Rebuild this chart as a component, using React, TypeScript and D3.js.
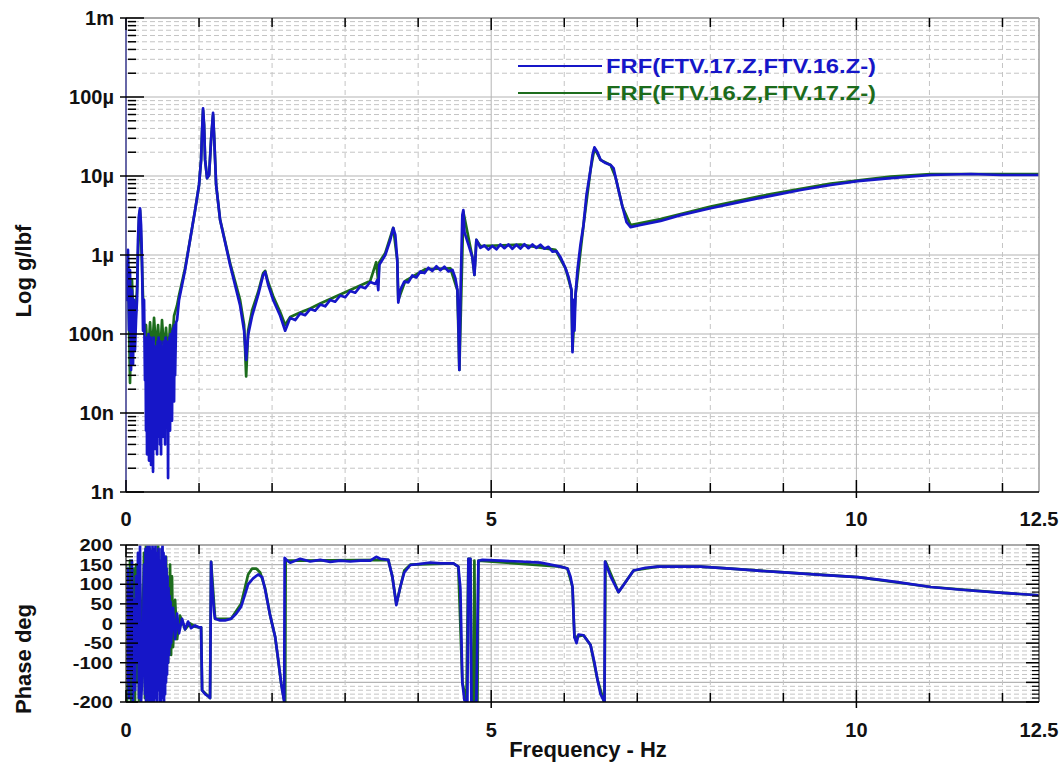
import React from 'react';
import * as d3 from 'd3';

// ---------- data ----------
const xTickValues = [0, 5, 10, 12.5];
const xTickLabels = ['0', '5', '10', '12.5'];
const magTickValues = [1e-3, 1e-4, 1e-5, 1e-6, 1e-7, 1e-8, 1e-9];
const magTickLabels = ['1m', '100µ', '10µ', '1µ', '100n', '10n', '1n'];
const phaseTickValues = [200, 150, 100, 50, 0, -50, -100, -200];
const legendLabels = ['FRF(FTV.17.Z,FTV.16.Z-)', 'FRF(FTV.16.Z,FTV.17.Z-)'];
const seriesColors = ['#1616c8', '#1c6c1c'];

// magnitude, series 1 (blue): [Hz, g/lbf]
const blueMag: [number, number][] = [
  [0, 8.1e-7], [0.014, 2.7e-7], [0.027, 1.16e-6], [0.041, 1.12e-7], [0.055, 6.45e-7], [0.069, 3.5e-8],
  [0.082, 3.6e-7], [0.096, 4.1e-8], [0.11, 2.7e-7], [0.123, 6.3e-8], [0.137, 1.5e-7], [0.151, 2.7e-7],
  [0.164, 1.55e-6], [0.178, 3.2e-6], [0.192, 3.9e-6], [0.206, 2.4e-6], [0.219, 8.6e-7], [0.233, 1.1e-7],
  [0.247, 2.7e-7], [0.26, 2.6e-8],
  [0.267, 8e-8], [0.274, 6e-9], [0.281, 9e-8], [0.288, 3e-9], [0.295, 7e-8], [0.302, 5e-9], [0.308, 1.0e-7],
  [0.315, 2.5e-9], [0.322, 8e-8], [0.329, 7e-9], [0.336, 9e-8], [0.343, 2.2e-9], [0.35, 7e-8], [0.356, 4e-9],
  [0.363, 8e-8], [0.37, 1.8e-9], [0.377, 9e-8], [0.384, 6e-9], [0.391, 7e-8], [0.397, 3.5e-9], [0.404, 6e-8],
  [0.411, 8e-9], [0.418, 7e-8], [0.425, 3e-9], [0.432, 8e-8], [0.439, 5e-9], [0.446, 9e-8], [0.452, 7e-9],
  [0.459, 7e-8], [0.466, 4e-9], [0.473, 8e-8], [0.48, 3e-9], [0.487, 6e-8], [0.493, 8e-9], [0.5, 7e-8],
  [0.507, 5e-9], [0.514, 8e-8], [0.521, 6e-9], [0.528, 7e-8], [0.535, 4e-9], [0.542, 9e-8], [0.548, 8e-9],
  [0.555, 8e-8], [0.562, 1e-8], [0.569, 7e-8], [0.576, 1.5e-9], [0.583, 8e-8], [0.589, 9e-9], [0.596, 9e-8],
  [0.603, 6e-9], [0.61, 1.0e-7], [0.617, 1.2e-8], [0.624, 9e-8], [0.63, 8e-9], [0.637, 1.1e-7], [0.644, 1.5e-8],
  [0.651, 1.2e-7], [0.658, 1.4e-8], [0.665, 1.3e-7], [0.672, 3e-8], [0.686, 1.4e-7], [0.699, 1.5e-7],
  [0.726, 2.7e-7], [0.809, 6.45e-7], [0.877, 1.55e-6],
  [0.946, 3.7e-6], [1.0, 7.7e-6], [1.028, 1.6e-5], [1.042, 3.8e-5], [1.055, 7.2e-5], [1.069, 4.4e-5],
  [1.083, 1.6e-5], [1.11, 9.4e-6], [1.138, 1.03e-5], [1.165, 2.9e-5], [1.192, 6.3e-5], [1.206, 3.3e-5],
  [1.234, 7.7e-6], [1.288, 2.8e-6], [1.425, 7.5e-7], [1.562, 2.3e-7], [1.617, 1.1e-7], [1.645, 4.7e-8],
  [1.672, 9.7e-8], [1.727, 1.7e-7], [1.809, 3.1e-7], [1.878, 5.6e-7], [1.905, 6.1e-7], [1.946, 4.2e-7],
  [2.015, 2.7e-7], [2.111, 1.7e-7], [2.179, 1.1e-7], [2.248, 1.6e-7], [2.316, 1.5e-7], [2.385, 1.82e-7],
  [2.453, 1.73e-7], [2.522, 2.07e-7], [2.59, 1.97e-7], [2.659, 2.36e-7], [2.727, 2.24e-7], [2.796, 2.7e-7],
  [2.864, 2.56e-7], [2.933, 3.07e-7], [3.002, 2.92e-7], [3.07, 3.5e-7], [3.139, 3.33e-7], [3.207, 4.0e-7],
  [3.276, 3.8e-7], [3.344, 4.55e-7], [3.413, 4.3e-7],
  [3.44, 4.8e-7], [3.454, 3.6e-7], [3.468, 7.5e-7], [3.55, 1.0e-6], [3.618, 1.55e-6], [3.659, 2.2e-6],
  [3.687, 1.8e-6], [3.714, 8.6e-7], [3.728, 2.5e-7], [3.755, 3.6e-7], [3.81, 4.6e-7], [3.865, 4.5e-7],
  [3.92, 5.5e-7], [3.975, 5.2e-7], [4.03, 6.2e-7], [4.085, 5.9e-7], [4.14, 6.9e-7], [4.194, 6.3e-7],
  [4.249, 7.2e-7], [4.304, 6.4e-7], [4.359, 7.1e-7], [4.414, 6.2e-7], [4.469, 6.5e-7], [4.509, 5.1e-7],
  [4.537, 3.6e-7], [4.55, 1.5e-7],
  [4.564, 3.5e-8], [4.578, 2.7e-7], [4.605, 3.2e-6], [4.619, 3.7e-6], [4.633, 1.95e-6], [4.688, 1.35e-6],
  [4.742, 9.4e-7], [4.77, 5.6e-7], [4.783, 8.6e-7], [4.797, 1.55e-6], [4.852, 1.23e-6], [4.907, 1.32e-6],
  [4.962, 1.17e-6], [5.016, 1.3e-6], [5.071, 1.18e-6], [5.126, 1.36e-6], [5.181, 1.22e-6], [5.236, 1.36e-6],
  [5.29, 1.2e-6], [5.345, 1.35e-6], [5.4, 1.21e-6], [5.455, 1.37e-6], [5.51, 1.22e-6], [5.565, 1.36e-6],
  [5.619, 1.23e-6], [5.674, 1.35e-6], [5.729, 1.2e-6], [5.784, 1.27e-6], [5.839, 1.1e-6], [5.893, 1.12e-6],
  [5.948, 9.4e-7], [6.017, 6.8e-7], [6.058, 5.3e-7], [6.099, 3.6e-7], [6.113, 5.9e-8], [6.127, 2.7e-7],
  [6.14, 1.1e-7], [6.154, 3.1e-7], [6.181, 6.45e-7], [6.222, 1.35e-6], [6.264, 2.4e-6], [6.305, 5.8e-6],
  [6.36, 1.2e-5], [6.387, 1.85e-5], [6.414, 2.3e-5], [6.455, 2.0e-5], [6.497, 1.6e-5], [6.565, 1.46e-5],
  [6.634, 1.38e-5], [6.675, 1.26e-5], [6.702, 9.7e-6], [6.743, 6.65e-6], [6.798, 4.05e-6], [6.853, 2.6e-6],
  [6.908, 2.25e-6], [7.045, 2.4e-6], [7.319, 2.7e-6], [7.593, 3.2e-6], [8.004, 3.9e-6], [8.415, 4.7e-6],
  [8.827, 5.6e-6], [9.238, 6.65e-6], [9.649, 7.7e-6], [10.019, 8.6e-6], [10.471, 9.4e-6], [11.02, 1.03e-5],
  [11.568, 1.06e-5], [11.979, 1.03e-5], [12.5, 1.03e-5],
];

// magnitude, series 2 (green)
const greenMag: [number, number][] = [
  [0, 7.5e-7], [0.027, 8.6e-7], [0.055, 2.4e-8], [0.082, 4.8e-7], [0.11, 8.4e-8], [0.151, 3.6e-7],
  [0.178, 2.9e-6], [0.192, 3.7e-6], [0.219, 7.5e-7], [0.247, 1.1e-7], [0.274, 1.3e-7], [0.302, 4.7e-8],
  [0.329, 1.4e-7], [0.356, 5.4e-8], [0.384, 1.6e-7], [0.411, 6.3e-8], [0.439, 1.3e-7], [0.466, 5.0e-8],
  [0.493, 1.5e-7], [0.521, 5.9e-8], [0.548, 1.2e-7], [0.576, 4.7e-8], [0.603, 1.3e-7], [0.63, 7.3e-8],
  [0.658, 1.7e-7], [0.699, 2.3e-7], [0.726, 3.1e-7], [0.809, 6.8e-7], [0.877, 1.55e-6], [0.946, 3.7e-6],
  [1.0, 7.7e-6], [1.028, 1.6e-5], [1.042, 3.8e-5], [1.055, 6.8e-5], [1.069, 4.4e-5], [1.083, 1.6e-5],
  [1.11, 9.4e-6], [1.138, 1.03e-5], [1.165, 2.9e-5], [1.192, 5.9e-5], [1.206, 3.3e-5], [1.234, 7.7e-6],
  [1.288, 2.8e-6], [1.425, 7.9e-7], [1.562, 2.7e-7], [1.617, 1.3e-7], [1.645, 2.9e-8], [1.672, 1.1e-7],
  [1.727, 2.0e-7], [1.809, 3.4e-7], [1.878, 5.9e-7], [1.905, 6.3e-7], [1.946, 4.55e-7], [2.015, 3.0e-7],
  [2.111, 1.9e-7], [2.179, 1.3e-7], [2.248, 1.64e-7], [2.385, 1.87e-7], [2.522, 2.1e-7], [2.659, 2.43e-7],
  [2.796, 2.77e-7], [2.933, 3.16e-7], [3.07, 3.6e-7], [3.207, 4.1e-7], [3.344, 4.7e-7], [3.426, 8.1e-7],
  [3.454, 4.55e-7], [3.468, 8.1e-7], [3.55, 1.06e-6], [3.659, 2.2e-6],
  [3.714, 8.6e-7], [3.728, 2.7e-7], [3.824, 4.7e-7], [4.098, 6.6e-7], [4.441, 6.8e-7], [4.537, 3.6e-7],
  [4.564, 3.5e-8], [4.619, 3.5e-6], [4.742, 9.4e-7], [4.77, 5.6e-7], [4.797, 1.55e-6], [4.852, 1.3e-6],
  [5.4, 1.35e-6], [5.88, 1.16e-6], [6.017, 6.8e-7], [6.099, 3.6e-7], [6.113, 6.3e-8], [6.154, 3.1e-7],
  [6.264, 2.4e-6], [6.36, 1.2e-5], [6.414, 2.25e-5], [6.497, 1.6e-5], [6.634, 1.38e-5], [6.702, 9.7e-6],
  [6.798, 4.05e-6], [6.908, 2.4e-6], [7.319, 2.85e-6], [8.004, 4.1e-6], [8.827, 5.9e-6], [9.649, 8.0e-6],
  [10.471, 9.8e-6], [11.02, 1.06e-5], [11.979, 1.06e-5], [12.5, 1.06e-5],
];

// phase, series 1 (blue): [Hz, deg]
const bluePhase: [number, number][] = [
  [0, 100], [0.014, -150], [0.027, 140], [0.041, -190], [0.055, 90], [0.069, -120], [0.082, 160],
  [0.096, -200], [0.11, 60], [0.123, -170], [0.137, 120], [0.151, -100], [0.164, 180], [0.178, -190],
  [0.192, 200], [0.206, -200], [0.219, -150], [0.233, -40], [0.247, 150], [0.26, -180],
  [0.267, 190], [0.274, -200], [0.281, 170], [0.288, -180], [0.295, 200], [0.302, -190], [0.308, 160],
  [0.315, -200], [0.322, 200], [0.329, -170], [0.336, 185], [0.343, -200], [0.35, 150], [0.356, -200],
  [0.363, 200], [0.37, -180], [0.377, 190], [0.384, -200], [0.391, 170], [0.397, -160], [0.404, 200],
  [0.411, -190], [0.418, 150], [0.425, -200], [0.432, 180], [0.439, -150], [0.446, 190], [0.452, -170],
  [0.459, 140], [0.466, -200], [0.473, 160], [0.48, -200], [0.487, 190], [0.493, -170], [0.5, 200],
  [0.507, -190], [0.514, 180], [0.521, -200], [0.528, 160], [0.535, -180], [0.542, 170], [0.548, -150],
  [0.555, 140], [0.562, -130], [0.569, 120], [0.576, -100], [0.583, 90], [0.589, -80], [0.596, 70],
  [0.603, -60], [0.61, 55], [0.617, -50], [0.644, 40], [0.672, -40], [0.699, 25], [0.726, -25],
  [0.768, 12], [0.809, -15], [0.85, 5], [0.891, -12], [0.946, -5], [1.0, -10], [1.028, -10],
  [1.042, -170], [1.083, -180], [1.124, -185], [1.151, -190], [1.165, 157], [1.179, 100], [1.206, 30],
  [1.22, 12], [1.288, 8], [1.357, 8], [1.439, 12], [1.508, 25], [1.576, 43], [1.631, 75], [1.672, 100],
  [1.741, 115], [1.809, 125], [1.864, 118], [1.905, 86], [1.974, 20], [2.042, -34], [2.083, -90],
  [2.124, -152], [2.166, -200], [2.172, 167], [2.207, 160], [2.248, 155], [2.385, 165], [2.522, 158],
  [2.659, 162], [2.796, 157], [2.933, 160], [3.07, 158], [3.207, 160], [3.344, 160], [3.426, 170],
  [3.481, 165], [3.591, 162], [3.646, 120], [3.701, 47], [3.755, 93], [3.81, 130], [3.892, 149],
  [4.03, 152], [4.167, 155], [4.304, 153], [4.482, 153], [4.55, 145], [4.578, 90], [4.605, -150],
  [4.633, -195], [4.674, -200], [4.688, 165], [4.715, 165], [4.729, -200], [4.797, -200], [4.825, 160],
  [4.879, 162], [5.126, 160], [5.4, 158], [5.674, 155], [5.811, 150], [5.948, 145], [6.044, 140],
  [6.085, 120], [6.113, 93], [6.127, 24], [6.14, -35], [6.168, -50], [6.195, -28], [6.264, -30],
  [6.36, -55], [6.414, -100], [6.455, -143], [6.497, -180], [6.538, -195], [6.551, -200], [6.558, 158],
  [6.634, 120], [6.743, 80], [6.839, 105], [6.949, 135], [7.113, 142], [7.278, 145], [7.593, 145],
  [7.867, 145], [8.278, 140], [8.69, 134], [8.964, 131], [9.512, 124], [10.019, 118], [10.334, 111],
  [10.608, 104], [11.02, 93], [11.431, 86], [12.006, 78], [12.5, 72],
];

// phase, series 2 (green)
const greenPhase: [number, number][] = [
  [0, 150], [0.014, -200], [0.027, 130], [0.041, -180], [0.055, 160], [0.069, -200], [0.082, 100],
  [0.096, -190], [0.11, 140], [0.123, -200], [0.137, 150], [0.151, -150], [0.164, 120], [0.178, -200],
  [0.192, 100], [0.219, -100], [0.247, 180], [0.26, -190], [0.274, 200], [0.288, -200], [0.302, 200],
  [0.315, -180], [0.329, 190], [0.356, -200], [0.384, 180], [0.411, -190], [0.439, 200], [0.466, -170],
  [0.493, 190], [0.521, -150], [0.548, 170], [0.576, -100], [0.603, 150], [0.617, -80], [0.63, 120],
  [0.644, -60], [0.672, 60], [0.699, -40], [0.74, 20], [0.809, -15], [0.877, 0], [0.946, -8], [1.0, -10],
  [1.028, -10], [1.042, -170], [1.151, -190], [1.165, 157], [1.22, 12], [1.439, 12], [1.576, 50],
  [1.672, 125], [1.727, 140], [1.782, 140], [1.837, 130], [1.905, 90], [1.974, 20], [2.042, -34],
  [2.124, -152], [2.166, -195], [2.179, -200], [2.186, 160], [2.385, 160], [3.591, 162], [3.646, 120],
  [3.701, 50], [3.81, 135], [3.892, 150], [4.482, 153], [4.55, 145], [4.605, -150], [4.66, -200],
  [4.688, 165], [4.715, 165], [4.729, -200], [4.756, -200], [4.77, 160], [4.783, -200], [4.811, -200],
  [4.825, 160], [5.948, 145], [6.044, 140], [6.113, 93], [6.14, -35], [6.264, -30], [6.36, -55],
  [6.455, -143], [6.538, -195], [6.551, -200], [6.565, 158], [6.743, 80], [6.949, 135], [7.278, 145],
  [7.867, 145], [8.964, 131], [10.019, 118], [11.02, 93], [12.006, 78], [12.5, 72],
];

// ---------- layout ----------
const W = 1064;
const H = 769;
const L = 126;
const R = 1039;
const T1 = 18;
const B1 = 492;
const T2 = 545;
const B2 = 702;
const FONT = '"Liberation Sans", Arial, Helvetica, sans-serif';
const GRID_SOLID = '#b4b4b4';
const GRID_DASH = '#c4c4c4';
const LINE_W = 2.7;

export default function App() {
  const x = d3.scaleLinear().domain([0, 12.5]).range([L, R]);
  const yMag = d3.scaleLog().domain([1e-9, 1e-3]).range([B1, T1]);
  const yPh = d3.scaleLinear().domain([-200, 200]).range([B2, T2]);

  const magLine = d3.line<[number, number]>().x((d) => x(d[0])).y((d) => yMag(d[1]));
  const phLine = d3.line<[number, number]>().x((d) => x(d[0])).y((d) => yPh(d[1]));

  const intHz = d3.range(1, 13);
  const decades = d3.range(-9, -3);
  const minorMag: number[] = [];
  decades.forEach((k) => {
    for (let m = 2; m <= 9; m++) minorMag.push(m * Math.pow(10, k));
  });
  const phMajor = d3.range(-200, 201, 50);
  const phMinor = d3.range(-200, 201, 10).filter((v) => v % 50 !== 0);

  const vGrid = (top: number, bottom: number) =>
    intHz.map((f) => (
      <line
        key={'vg' + f}
        x1={x(f)}
        x2={x(f)}
        y1={top}
        y2={bottom}
        stroke={f % 5 === 0 ? GRID_SOLID : GRID_DASH}
        strokeWidth={1}
        strokeDasharray={f % 5 === 0 ? undefined : '5,4'}
      />
    ));

  const xTicksMarks = (top: number, bottom: number) =>
    d3.range(0, 13).map((f) => (
      <g key={'xt' + f}>
        <line x1={x(f)} x2={x(f)} y1={bottom} y2={bottom - (f % 5 === 0 ? 12 : 9)} stroke="#000" strokeWidth={1.5} />
        <line x1={x(f)} x2={x(f)} y1={top} y2={top + (f % 5 === 0 ? 12 : 9)} stroke="#000" strokeWidth={1.5} />
        {f % 5 === 0 && f > 0 ? (
          <line x1={x(f)} x2={x(f)} y1={bottom} y2={bottom + 6} stroke="#000" strokeWidth={1.5} />
        ) : null}
      </g>
    ));

  const xLabels = (baseline: number) =>
    xTickValues.map((v, i) => (
      <text key={'xl' + i} x={x(v)} y={baseline} textAnchor="middle" fontSize={20} fontWeight="bold" fontFamily={FONT} fill="#111">
        {xTickLabels[i]}
      </text>
    ));

  return (
    <div style={{ position: 'absolute', left: 0, top: 0, width: W, height: H, background: '#fff' }}>
      <svg width={W} height={H} viewBox={`0 0 ${W} ${H}`} style={{ display: 'block' }}>
        <defs>
          <clipPath id="clipTop">
            <rect x={L} y={T1} width={R - L} height={B1 - T1} />
          </clipPath>
          <clipPath id="clipBot">
            <rect x={L} y={T2} width={R - L} height={B2 - T2} />
          </clipPath>
        </defs>
        <rect x={0} y={0} width={W} height={H} fill="#fff" />

        {/* ---------- top panel ---------- */}
        <g>
          {minorMag.map((v, i) => (
            <line key={'mm' + i} x1={L} x2={R} y1={yMag(v)} y2={yMag(v)} stroke={GRID_DASH} strokeDasharray="5,3" />
          ))}
          {magTickValues.map((v, i) => (
            <line key={'mg' + i} x1={L} x2={R} y1={yMag(v)} y2={yMag(v)} stroke={GRID_SOLID} strokeWidth={1.2} />
          ))}
          {vGrid(T1, B1)}
          <g clipPath="url(#clipTop)" fill="none" strokeLinejoin="round">
            <path d={magLine(greenMag) || ''} stroke={seriesColors[1]} strokeWidth={LINE_W} />
            <path d={magLine(blueMag) || ''} stroke={seriesColors[0]} strokeWidth={LINE_W} />
          </g>
          {/* frame */}
          <line x1={L} x2={R} y1={T1} y2={T1} stroke="#9a9a9a" strokeWidth={1.5} />
          <line x1={R} x2={R} y1={T1} y2={B1} stroke="#9a9a9a" strokeWidth={1.5} />
          <line x1={L} x2={R} y1={B1} y2={B1} stroke="#000" strokeWidth={1.5} />
          <line x1={L} x2={L} y1={T1} y2={B1} stroke="#34348a" strokeWidth={1.5} />
          {xTicksMarks(T1, B1)}
          {magTickValues.map((v, i) => (
            <line key={'myt' + i} x1={L - 6} x2={L + 18} y1={yMag(v)} y2={yMag(v)} stroke="#000" strokeWidth={1.5} />
          ))}
          {minorMag.map((v, i) => (
            <line key={'mmt' + i} x1={L + 2} x2={L + 10} y1={yMag(v)} y2={yMag(v)} stroke="#000" strokeWidth={1.5} />
          ))}
          {magTickValues.map((v, i) => (
            <text key={'myl' + i} x={114} y={yMag(v) + 7} textAnchor="end" fontSize={20} fontWeight="bold" fontFamily={FONT} fill="#111">
              {magTickLabels[i]}
            </text>
          ))}
          {xLabels(526)}
          <text
            transform={`translate(31,271) rotate(-90)`}
            textAnchor="middle"
            fontSize={22}
            fontWeight="bold"
            fontFamily={FONT}
            fill="#111"
          >
            Log g/lbf
          </text>
          {/* legend */}
          {legendLabels.map((lab, i) => (
            <g key={'lg' + i}>
              <line x1={518} x2={602} y1={66 + i * 27} y2={66 + i * 27} stroke={seriesColors[i]} strokeWidth={2} />
              <text
                x={606}
                y={73 + i * 27}
                fontSize={21}
                fontWeight="bold"
                fontFamily={FONT}
                fill={seriesColors[i]}
                textLength={270}
                lengthAdjust="spacingAndGlyphs"
              >
                {lab}
              </text>
            </g>
          ))}
        </g>

        {/* ---------- bottom panel ---------- */}
        <g>
          {phMinor.map((v) => (
            <line key={'pm' + v} x1={L} x2={R} y1={yPh(v)} y2={yPh(v)} stroke={GRID_DASH} strokeDasharray="5,3" />
          ))}
          {phMajor.map((v) => (
            <line key={'pg' + v} x1={L} x2={R} y1={yPh(v)} y2={yPh(v)} stroke={GRID_SOLID} strokeWidth={1.2} />
          ))}
          {vGrid(T2, B2)}
          <g clipPath="url(#clipBot)" fill="none" strokeLinejoin="round">
            <path d={phLine(greenPhase) || ''} stroke={seriesColors[1]} strokeWidth={LINE_W} />
            <path d={phLine(bluePhase) || ''} stroke={seriesColors[0]} strokeWidth={LINE_W} />
          </g>
          <line x1={L} x2={R} y1={T2} y2={T2} stroke="#9a9a9a" strokeWidth={1.5} />
          <line x1={R} x2={R} y1={T2} y2={B2} stroke="#555" strokeWidth={1.5} />
          <line x1={L} x2={R} y1={B2} y2={B2} stroke="#000" strokeWidth={1.5} />
          <line x1={L} x2={L} y1={T2} y2={B2} stroke="#555" strokeWidth={1.5} />
          {xTicksMarks(T2, B2)}
          {phMajor.map((v) => (
            <g key={'pyt' + v}>
              <line x1={L - 6} x2={L + 12} y1={yPh(v)} y2={yPh(v)} stroke="#000" strokeWidth={1.5} />
              <line x1={R - 13} x2={R} y1={yPh(v)} y2={yPh(v)} stroke="#000" strokeWidth={1.5} />
            </g>
          ))}
          {phMinor.map((v) => (
            <g key={'pmt' + v}>
              <line x1={L} x2={L + 7} y1={yPh(v)} y2={yPh(v)} stroke="#000" strokeWidth={1.2} />
              <line x1={R - 7} x2={R} y1={yPh(v)} y2={yPh(v)} stroke="#000" strokeWidth={1.2} />
            </g>
          ))}
          {phaseTickValues.map((v) => (
            <text
              key={'pyl' + v}
              transform={`translate(113,${yPh(v) + 6}) scale(1.22,1)`}
              textAnchor="end"
              fontSize={16.5}
              fontWeight="bold"
              fontFamily={FONT}
              fill="#111"
            >
              {String(v)}
            </text>
          ))}
          {xLabels(737)}
          <text
            transform={`translate(31,659) rotate(-90)`}
            textAnchor="middle"
            fontSize={22}
            fontWeight="bold"
            fontFamily={FONT}
            fill="#111"
          >
            Phase deg
          </text>
          <text x={588} y={757} textAnchor="middle" fontSize={22} fontWeight="bold" fontFamily={FONT} fill="#111">
            Frequency - Hz
          </text>
        </g>
      </svg>
    </div>
  );
}
